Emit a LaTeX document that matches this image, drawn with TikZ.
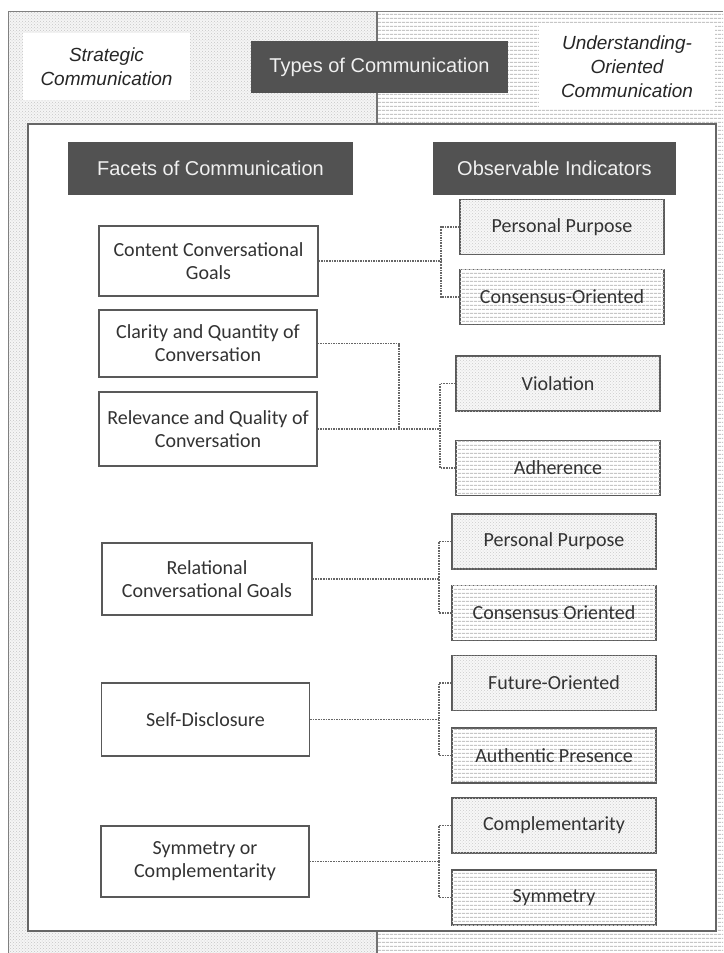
\documentclass[tikz,border=0pt]{standalone}
\usepackage{fontspec}
\setmainfont{Carlito}
\newfontfamily\arialfont{Liberation Sans}
\usetikzlibrary{patterns,patterns.meta}

\begin{document}
\begin{tikzpicture}[x=1pt,y=-1pt]
\tikzstyle{facet}=[draw=black!65,line width=1.2pt,fill=white,align=center,text=black!80,font=\fontsize{20}{23}\selectfont,inner sep=0pt]
\tikzstyle{dotbox}=[facet,fill=gray!6,postaction={pattern=crosshatch dots,pattern color=gray!40},minimum width=204pt,minimum height=55pt]
\tikzstyle{linebox}=[facet,fill=white,postaction={pattern={Lines[angle=0,distance=4pt,line width=1.5pt]},pattern color=gray!45},minimum width=204pt,minimum height=55pt]
\tikzstyle{header}=[fill=black!68,text=gray!12,font=\arialfont\fontsize{20}{24}\selectfont,inner sep=0pt]
\tikzstyle{kind}=[fill=white,align=center,text=black!85,font=\arialfont\itshape\fontsize{19}{24}\selectfont,inner sep=0pt]
\tikzstyle{link}=[densely dotted,line width=1.6pt,black!60]

\useasboundingbox (0,0) rectangle (723,953);

% background halves
\fill[gray!8] (8,11) rectangle (377,953);
\fill[pattern=crosshatch dots,pattern color=gray!45] (8,11) rectangle (377,953);
\fill[white] (377,11) rectangle (723,953);
\fill[pattern={Lines[angle=0,distance=4pt,line width=1.5pt]},pattern color=gray!45] (377,11) rectangle (723,953);
\draw[black!50,line width=1pt] (8,953) -- (8,11) -- (723,11);
\draw[black!55,line width=1.2pt] (377,11) -- (377,953);

\path (106.5,66.5) node[kind,minimum width=167pt,minimum height=67pt] (sc) {Strategic\\Communication};
\path (627,66.5) node[kind,minimum width=176pt,minimum height=83pt] (uc) {Understanding-\\Oriented\\Communication};
\path (379.5,67) node[header,minimum width=257pt,minimum height=52pt] (types) {Types of Communication};

% inner frame
\draw[black!60,line width=1.2pt,fill=white] (28,124) rectangle (716,931);

\path (210.5,168.5) node[header,minimum width=285pt,minimum height=53pt] (facets) {Facets of Communication};
\path (554.5,168.5) node[header,minimum width=243pt,minimum height=53pt] (indic) {Observable Indicators};

\path (208.5,261) node[facet,minimum width=219pt,minimum height=70pt] (cg) {Content Conversational\\Goals};
\path (208,343.5) node[facet,minimum width=218pt,minimum height=67pt] (cq) {Clarity and Quantity of\\Conversation};
\path (208,429) node[facet,minimum width=218pt,minimum height=74pt] (rq) {Relevance and Quality of\\Conversation};
\path (207,579) node[facet,minimum width=210pt,minimum height=72pt] (rg) {Relational\\Conversational Goals};
\path (205.5,719.5) node[facet,minimum width=208pt,minimum height=73pt] (sd) {Self-Disclosure};
\path (205,861.5) node[facet,minimum width=208pt,minimum height=71pt] (sy) {Symmetry or\\Complementarity};

\path (562,227) node[dotbox] (pp1) {Personal Purpose};
\path (562,297) node[linebox] (co1) {Consensus-Oriented};
\path (558,383.5) node[dotbox] (vi) {Violation};
\path (558,468) node[linebox] (ad) {Adherence};
\path (554,541.5) node[dotbox] (pp2) {Personal Purpose};
\path (554,613) node[linebox] (co2) {Consensus Oriented};
\path (554,683) node[dotbox] (fo) {Future-Oriented};
\path (554,755.5) node[linebox] (ap) {Authentic Presence};
\path (554,825.5) node[dotbox] (cm) {Complementarity};
\path (554,897.5) node[linebox] (sm) {Symmetry};

\coordinate (j1) at (441,261);
\coordinate (j2) at (399,429);
\coordinate (j3) at (440,429);
\coordinate (j4) at (439,579);
\coordinate (j5) at (439,719.5);
\coordinate (j6) at (439,861.5);

\draw[link] (cg.east) -- (j1)
(pp1.west) -| (j1)
(co1.west) -| (j1)
(cq.east) -| (j2)
(rq.east) -- (j3)
(vi.west) -| (j3)
(ad.west) -| (j3)
(rg.east) -- (j4)
(pp2.west) -| (j4)
(co2.west) -| (j4)
(sd.east) -- (j5)
(fo.west) -| (j5)
(ap.west) -| (j5)
(sy.east) -- (j6)
(cm.west) -| (j6)
(sm.west) -| (j6)
;
\end{tikzpicture}
\end{document}
